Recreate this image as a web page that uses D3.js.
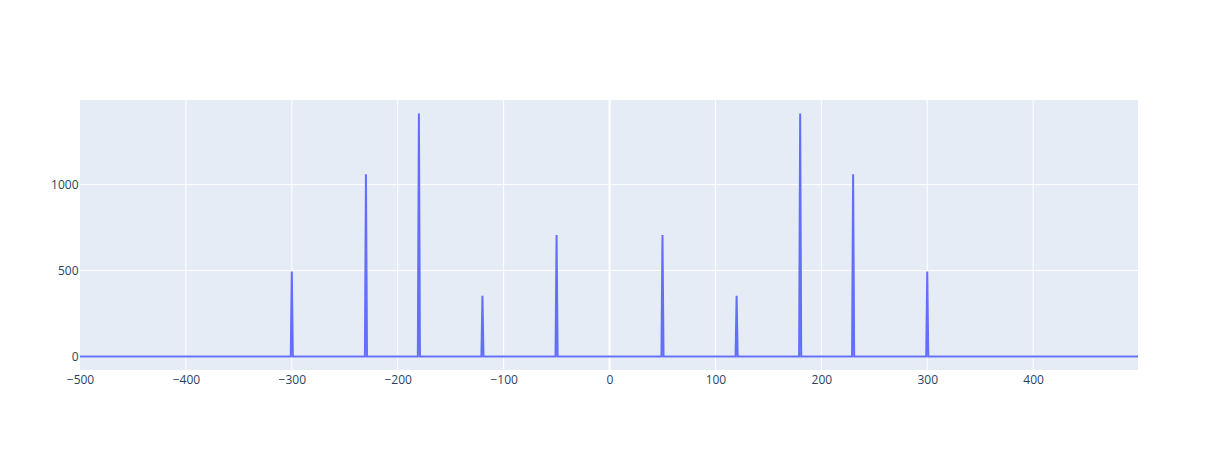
<!DOCTYPE html>
<html>
<head>
<meta charset="utf-8">
<script src="https://cdn.jsdelivr.net/npm/d3@7"></script>
<style>
  html, body { margin: 0; padding: 0; background: #fff; }
  svg { display: block; }
</style>
</head>
<body>
<svg id="chart" width="1218" height="450"></svg>
<script>
// Frequency axis span (fftfreq-like bins)
const freqStart = -500;
const freqEnd = 499;
// Spectral peaks (Hz) and their magnitudes
const peakFreqs = [-300, -230, -180, -120, -50, 50, 120, 180, 230, 300];
const peakMags  = [495, 1061, 1414, 354, 707, 707, 354, 1414, 1061, 495];
// Tick labels
const xTicks = [-500, -400, -300, -200, -100, 0, 100, 200, 300, 400];
const yTicks = [0, 500, 1000];

// Build line points: baseline at 0 with single-bin spikes
const points = [[freqStart, 0]];
peakFreqs.forEach((f, i) => {
  points.push([f - 1, 0], [f, peakMags[i]], [f + 1, 0]);
});
points.push([freqEnd, 0]);

const W = 1218, H = 450;
const margin = {l: 80, r: 80, t: 100, b: 80};
const pw = W - margin.l - margin.r, ph = H - margin.t - margin.b;

const svg = d3.select('#chart');
const g = svg.append('g').attr('transform', `translate(${margin.l},${margin.t})`);

const yMax = d3.max(peakMags);
const pad = yMax * 0.05 / 0.9;

const x = d3.scaleLinear().domain([freqStart, freqEnd]).range([0, pw]);
const y = d3.scaleLinear().domain([-pad, yMax + pad]).range([ph, 0]);

g.append('rect').attr('width', pw).attr('height', ph).attr('fill', '#E5ECF6');

// grid
g.selectAll('.xg').data(xTicks.filter(t => t !== 0 && t !== freqStart)).enter().append('line')
  .attr('x1', d => x(d)).attr('x2', d => x(d)).attr('y1', 0).attr('y2', ph)
  .attr('stroke', '#fff').attr('stroke-width', 1);
g.selectAll('.yg').data(yTicks.filter(t => t !== 0)).enter().append('line')
  .attr('y1', d => y(d)).attr('y2', d => y(d)).attr('x1', 0).attr('x2', pw)
  .attr('stroke', '#fff').attr('stroke-width', 1);
// zero lines
g.append('line').attr('x1', x(0)).attr('x2', x(0)).attr('y1', 0).attr('y2', ph)
  .attr('stroke', '#fff').attr('stroke-width', 2);
g.append('line').attr('x1', 0).attr('x2', pw).attr('y1', y(0)).attr('y2', y(0))
  .attr('stroke', '#fff').attr('stroke-width', 2);

// line
const line = d3.line().x(d => x(d[0])).y(d => y(d[1]));
g.append('path').datum(points).attr('d', line)
  .attr('fill', 'none').attr('stroke', '#636efa').attr('stroke-width', 2);

// axes (tick labels only)
const fmt = d3.format('d');
const xAxis = d3.axisBottom(x).tickValues(xTicks).tickSize(0).tickPadding(0).tickFormat(fmt);
const xa = g.append('g').attr('transform', `translate(0,${ph})`).call(xAxis);
xa.select('.domain').remove();
xa.selectAll('text').attr('y', 13.5).attr('dy', 0)
  .attr('font-family', '"Open Sans", sans-serif').attr('font-size', 12).attr('fill', '#2a3f5f');

const yAxis = d3.axisLeft(y).tickValues(yTicks).tickSize(0).tickPadding(0).tickFormat(fmt);
const ya = g.append('g').call(yAxis);
ya.select('.domain').remove();
ya.selectAll('text').attr('x', -1.5).attr('dy', '0.35em')
  .attr('font-family', '"Open Sans", sans-serif').attr('font-size', 12).attr('fill', '#2a3f5f');
</script>
</body>
</html>
